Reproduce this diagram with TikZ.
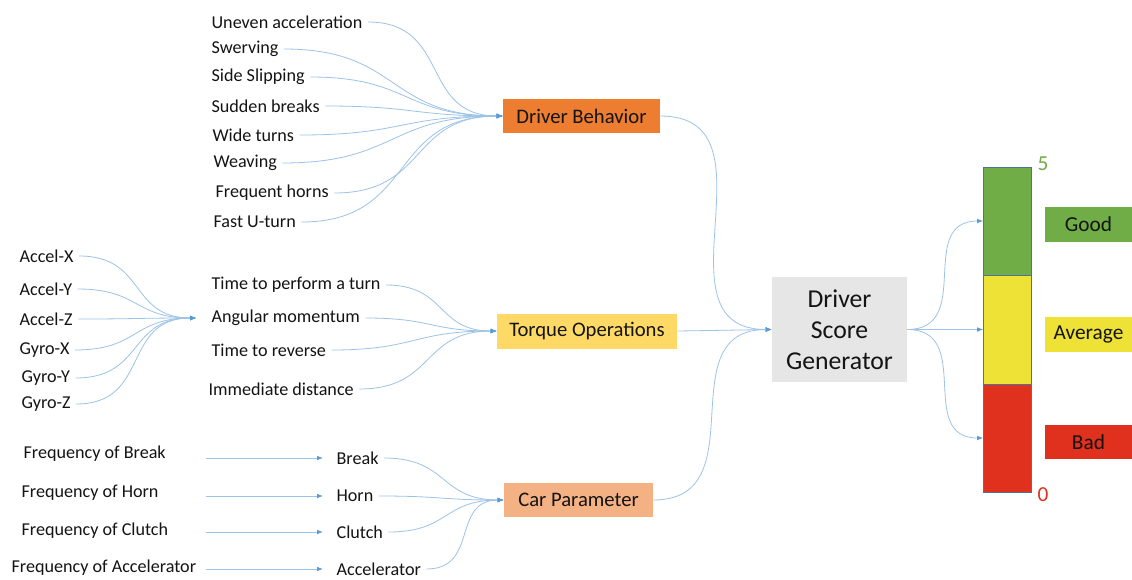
\documentclass[tikz,border=0pt]{standalone}
\usepackage{fontspec}
\setmainfont{Carlito}
\usetikzlibrary{arrows.meta}
\definecolor{lineblue}{HTML}{9DC3E6}
\definecolor{tipblue}{HTML}{5B9BD5}
\definecolor{dborange}{HTML}{ED7D31}
\definecolor{tqyellow}{HTML}{FFD966}
\definecolor{cppeach}{HTML}{F4B183}
\definecolor{dsgray}{HTML}{E6E6E6}
\definecolor{scgreen}{HTML}{70AD47}
\definecolor{scyellow}{HTML}{EEE236}
\definecolor{scred}{HTML}{E0301E}
\definecolor{barborder}{HTML}{4F7396}
\definecolor{txt}{HTML}{141414}
\tikzset{
  inlabel/.style={anchor=west, inner xsep=4pt, inner ysep=1pt, text=txt, font=\fontsize{13.6}{16}\selectfont},
  boxlabel/.style={inner sep=0pt, text=txt, font=\fontsize{15.5}{18}\selectfont},
  scorelabel/.style={inner sep=0pt, text=txt, font=\fontsize{16}{19}\selectfont},
  segment/.style={draw=barborder, line width=0.6pt, inner sep=0pt, minimum width=36pt},
  conn/.style={draw=lineblue, line width=0.6pt, -{Latex[length=4.5pt,width=3.5pt,color=tipblue]}},
  fan/.style={conn, looseness=1.3},
}
\begin{document}
\begin{tikzpicture}[x=0.75pt,y=-0.75pt]
\useasboundingbox[fill=white] (0,0) rectangle (1132,579);

% main boxes
\node[boxlabel, fill=dborange, minimum width=117.75pt, minimum height=25.5pt] (db) at (581.5,116) {Driver Behavior};
\node[boxlabel, fill=tqyellow, minimum width=135pt, minimum height=26.25pt] (tq) at (587,331) {Torque Operations};
\node[boxlabel, fill=cppeach, minimum width=111.75pt, minimum height=25.5pt] (cp) at (578.5,500) {Car Parameter};
\node[inner sep=0pt, fill=dsgray, text=txt, minimum width=101.25pt, minimum height=78.75pt, align=center,
      font=\fontsize{19.3}{23.25}\selectfont] (dsg) at (839.5,329.5) {Driver\\Score\\Generator};

% score bar
\node[segment, fill=scgreen, minimum height=81pt] (sg) at (1007.5,221) {};
\node[segment, fill=scyellow, minimum height=81.75pt] (sy) at (1007.5,329.5) {};
\node[segment, fill=scred, minimum height=81pt] (sr) at (1007.5,438) {};
\node[inner sep=0pt, text=scgreen, font=\fontsize{16}{19}\selectfont] (five) at (1043,164) {5};
\node[inner sep=0pt, text=scred, font=\fontsize{16}{19}\selectfont] (zero) at (1043,495) {0};

\node[scorelabel, fill=scgreen, minimum width=65.25pt, minimum height=26.25pt] (good) at (1088.5,224.5) {Good};
\node[scorelabel, fill=scyellow, minimum width=65.25pt, minimum height=26.25pt] (avg) at (1088.5,334.5) {Average};
\node[scorelabel, fill=scred, minimum width=65.25pt, minimum height=25.5pt] (bad) at (1088.5,442) {Bad};

% driver behavior inputs
\node[inlabel] (ua) at (206,22) {Uneven acceleration};
\node[inlabel] (sw) at (206,49) {Swerving};
\node[inlabel] (ss) at (206,77) {Side Slipping};
\node[inlabel] (sb) at (206,106) {Sudden breaks};
\node[inlabel] (wt) at (207,135) {Wide turns};
\node[inlabel] (wv) at (208,163) {Weaving};
\node[inlabel] (fh) at (210,193) {Frequent horns};
\node[inlabel] (fu) at (208,222) {Fast U-turn};
\foreach \n in {ua,sw,ss,sb,wt,wv,fh,fu}
  \draw[fan] (\n.east) to[out=0,in=180] (db.west);

% sensor inputs
\coordinate (ag) at (196,318);
\node[inlabel] (ax) at (14,256) {Accel-X};
\node[inlabel] (ay) at (14,289) {Accel-Y};
\node[inlabel] (az) at (14,319) {Accel-Z};
\node[inlabel] (gx) at (14,350) {Gyro-X};
\node[inlabel] (gy) at (16,378) {Gyro-Y};
\node[inlabel] (gz) at (16,404) {Gyro-Z};
\foreach \n in {ax,ay,az,gx,gy,gz}
  \draw[fan] (\n.east) to[out=0,in=180] (ag);

% torque inputs
\node[inlabel] (tt) at (206,285) {Time to perform a turn};
\node[inlabel] (am) at (206,318) {Angular momentum};
\node[inlabel] (tr) at (206,350) {Time to reverse};
\node[inlabel] (id) at (203,389) {Immediate distance};
\foreach \n in {tt,am,tr,id}
  \draw[fan] (\n.east) to[out=0,in=180] (tq.west);

% car parameter inputs
\coordinate (cs) at (206,0);
\node[inlabel] (fb) at (18,454) {Frequency of Break};
\node[inlabel] (fho) at (16,493) {Frequency of Horn};
\node[inlabel] (fc) at (16,531) {Frequency of Clutch};
\node[inlabel] (fa) at (6,568) {Frequency of Accelerator};
\node[inlabel] (br) at (331,458) {Break};
\node[inlabel] (hn) at (331,496) {Horn};
\node[inlabel] (cl) at (331,532) {Clutch};
\node[inlabel] (ac) at (331,569) {Accelerator};
\draw[conn, shorten >=6pt] (br.west -| cs) -- (br.west);
\draw[conn, shorten >=6pt] (hn.west -| cs) -- (hn.west);
\draw[conn, shorten >=6pt] (cl.west -| cs) -- (cl.west);
\draw[conn, shorten >=6pt] (ac.west -| cs) -- (ac.west);
\foreach \n in {br,hn,cl,ac}
  \draw[fan] (\n.east) to[out=0,in=180] (cp.west);

% to generator
\draw[fan] (db.east) to[out=0,in=180] (dsg.west);
\draw[conn] (tq.east) -- (dsg.west);
\draw[fan] (cp.east) to[out=0,in=180] (dsg.west);

% to score bar
\draw[fan] (dsg.east) to[out=0,in=180] (sg.west);
\draw[conn] (dsg.east) -- (sy.west);
\draw[fan] (dsg.east) to[out=0,in=180] (sr.west);
\end{tikzpicture}
\end{document}
